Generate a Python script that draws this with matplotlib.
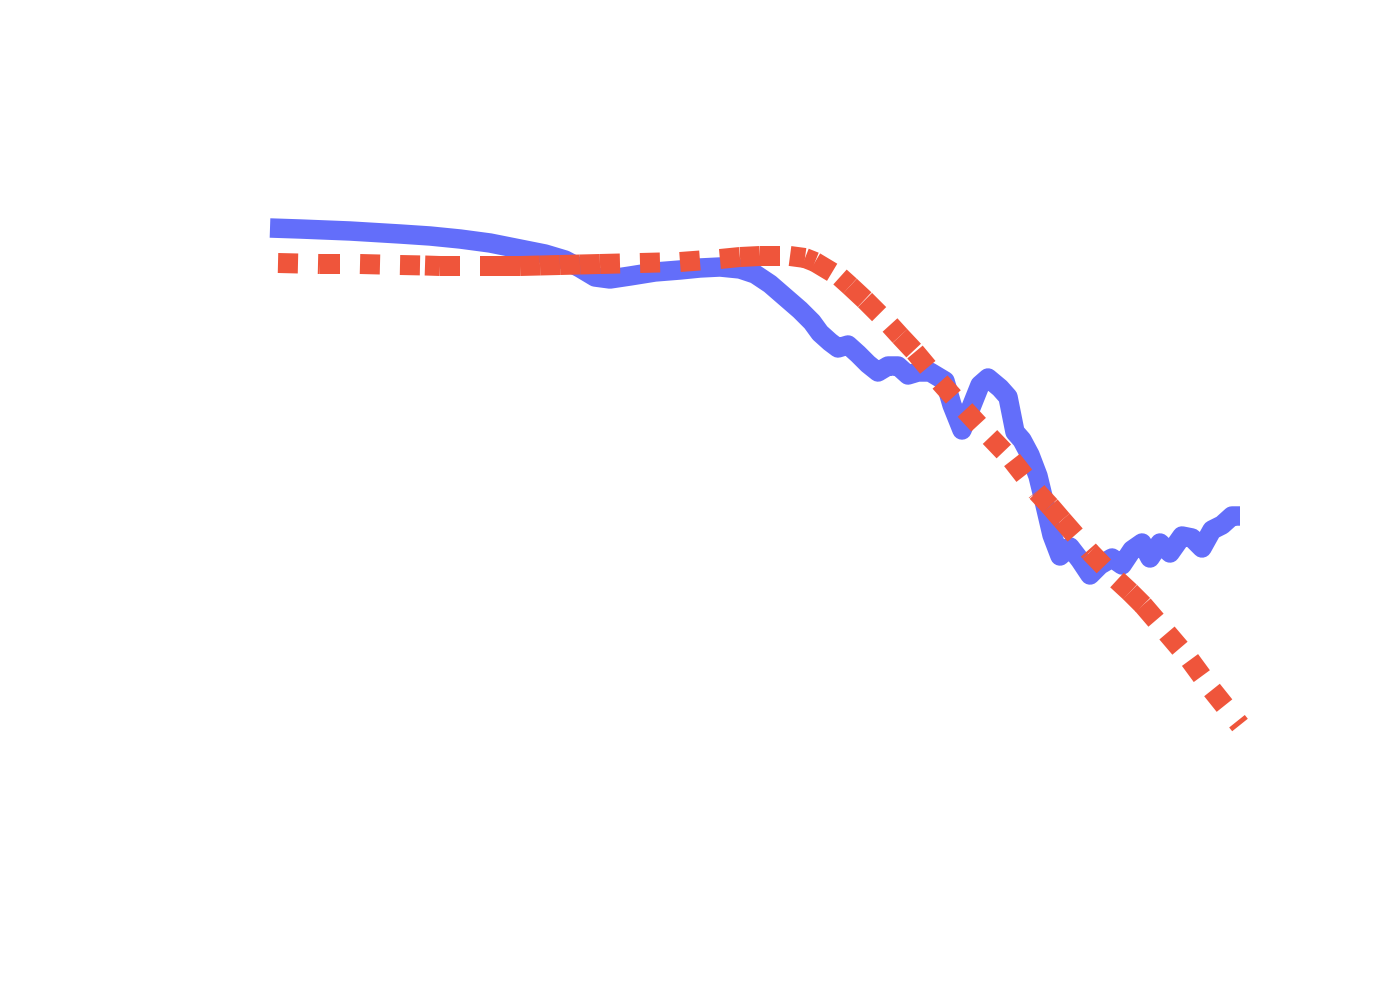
import matplotlib
matplotlib.use("Agg")
import matplotlib.pyplot as plt
import numpy as np
from matplotlib.collections import LineCollection

# series values
blue_x = [0, 3, 8, 13, 16, 19, 22, 25, 27.5, 29.5, 31, 32.5, 34, 36, 38.5, 41, 43, 45,
          47, 48.5, 50, 51.5, 53, 54.2, 55, 56, 56.8, 57.8, 58.8, 59.8, 60.8, 61.8,
          62.8, 63.8, 64.8, 66, 67.5, 68.2, 69.2, 70, 71, 71.8, 73, 73.8, 74.5, 75.2,
          76, 76.8, 77.5, 78.2, 79, 80, 81, 82, 83, 84.2, 85.2, 86.2, 87.2, 88, 89,
          90, 91.2, 92.2, 93.2, 94.2, 95.2, 96.2, 97]
blue_y = [77.2, 77.1, 76.9, 76.6, 76.4, 76.1, 75.7, 75.1, 74.6, 74.0, 73.2, 72.3, 72.1,
          72.4, 72.8, 73.0, 73.2, 73.3, 73.1, 72.6, 71.6, 70.3, 69.0, 67.8, 66.7, 65.8,
          65.2, 65.5, 64.6, 63.6, 62.8, 63.4, 63.4, 62.5, 62.8, 62.8, 61.9, 59.5, 57.0,
          59.0, 61.5, 62.2, 61.2, 60.3, 56.8, 56.0, 54.5, 52.4, 49.5, 46.5, 44.4, 45.3,
          44.0, 42.5, 43.5, 44.2, 43.5, 45.0, 45.7, 44.2, 45.7, 44.7, 46.4, 46.2, 45.2,
          47.0, 47.5, 48.4, 48.4]

red_x = [0.8, 5, 9, 13, 15.5, 17, 21, 23, 25, 27, 29, 31, 33, 37, 41, 45, 47, 49, 52,
         53.5, 54.5, 57, 58, 59.5, 62, 63, 64.5, 67, 69.5, 72, 74.2, 76.7, 78, 79.2,
         82, 84.7, 86, 87.3, 89.7, 92, 94.2, 97]
red_y = [73.7, 73.6, 73.6, 73.5, 73.45, 73.4, 73.4, 73.4, 73.4, 73.45, 73.5, 73.55,
         73.6, 73.7, 73.8, 74.1, 74.3, 74.4, 74.4, 74.2, 73.8, 72.3, 71.4, 70.0, 67.5,
         66.4, 64.8, 61.8, 59.0, 56.3, 54.0, 50.8, 49.4, 48.0, 44.8, 42.0, 40.8, 39.5,
         36.7, 34.0, 31.0, 27.5]

fig = plt.figure(figsize=(14, 10), dpi=100)
ax = fig.add_axes([0, 0, 1, 1])
ax.set_xlim(-27, 113)
ax.set_ylim(0, 100)
ax.axis("off")

ax.plot(blue_x, blue_y, color="#636EFA", linewidth=14, solid_joinstyle="round",
        solid_capstyle="butt", zorder=2)

# dash pattern restarts on every segment, like the reference
pts = np.column_stack([red_x, red_y])
segs = np.stack([pts[:-1], pts[1:]], axis=1)
lc = LineCollection(segs, colors="#EF553B", linewidths=14.4, linestyles=(0, (1, 1)),
                    capstyle="butt", zorder=3)
ax.add_collection(lc)

fig.savefig("out.png", dpi=100, facecolor="white")
